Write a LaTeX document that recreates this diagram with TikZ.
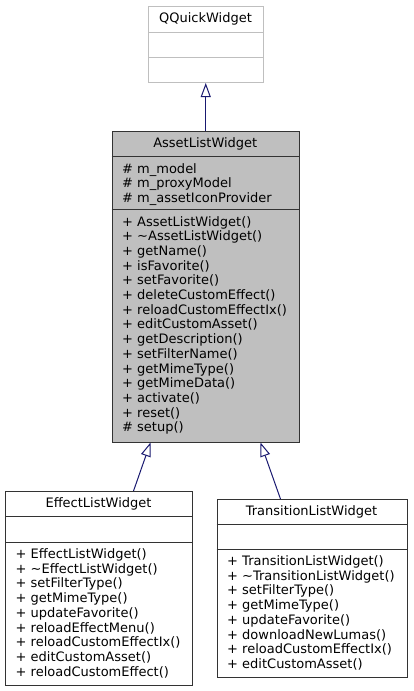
\documentclass[tikz,border=0pt]{standalone}
\usepackage{fontspec}
\setmainfont{DejaVu Sans}
\usetikzlibrary{arrows.meta}
\definecolor{boxfill}{HTML}{BFBFBF}
\definecolor{extborder}{HTML}{BFBFBF}
\definecolor{edgeblue}{HTML}{191970}
\definecolor{darkborder}{HTML}{333333}
\tikzset{
  classbox/.style={draw=darkborder, line width=1pt, fill=white, rectangle, inner sep=0pt, anchor=north west},
  extbox/.style={draw=extborder, line width=1pt, fill=white, rectangle, inner sep=0pt, anchor=north west},
  divider/.style={draw=darkborder, line width=1pt},
  extdivider/.style={draw=extborder, line width=1pt},
  title/.style={anchor=base, inner sep=0pt, font=\fontsize{13}{14.7}\selectfont},
  member/.style={anchor=base west, inner sep=0pt, font=\fontsize{13}{14.7}\selectfont},
  inherit/.style={draw=edgeblue, line width=1pt, -{Triangle[open, length=14pt, width=10pt, fill=white]}},
}
\begin{document}
\begin{tikzpicture}[x=1pt, y=-1pt]
\useasboundingbox (0,0) rectangle (413,691);

% QQuickWidget
\node[extbox, minimum width=115pt, minimum height=76pt] (qq) at (148,6) {};
\draw[extdivider] (148,32) -- (263,32);
\draw[extdivider] (148,57) -- (263,57);
\node[title] (qqt) at (205.5,22.5) {QQuickWidget};

% AssetListWidget
\node[classbox, fill=boxfill, minimum width=187.5pt, minimum height=310.5pt] (alw) at (111.5,131) {};
\draw[divider] (111.5,156.5) -- (299,156.5);
\draw[divider] (111.5,209.5) -- (299,209.5);
\node[title] (alwt) at (205.3,147.5) {AssetListWidget};
\foreach \t [count=\i from 0] in {\# m\_model, \# m\_proxyModel, \# m\_assetIconProvider}
  \node[member] (alwa\i) at (122,173+14.7*\i) {\t};
\foreach \t [count=\i from 0] in {+ AssetListWidget(), + \textasciitilde AssetListWidget(), + getName(), + isFavorite(), + setFavorite(), + deleteCustomEffect(), + reloadCustomEffectIx(), + editCustomAsset(), + getDescription(), + setFilterName(), + getMimeType(), + getMimeData(), + activate(), + reset(), \# setup()}
  \node[member] (alwm\i) at (122,226+14.7*\i) {\t};

% EffectListWidget
\node[classbox, minimum width=187pt, minimum height=194pt] (eff) at (5,491) {};
\draw[divider] (5,516) -- (192,516);
\draw[divider] (5,542) -- (192,542);
\node[title] (efft) at (98.5,507.5) {EffectListWidget};
\foreach \t [count=\i from 0] in {+ EffectListWidget(), + \textasciitilde EffectListWidget(), + setFilterType(), + getMimeType(), + updateFavorite(), + reloadEffectMenu(), + reloadCustomEffectIx(), + editCustomAsset(), + reloadCustomEffect()}
  \node[member] (effm\i) at (15.5,558.5+14.7*\i) {\t};

% TransitionListWidget
\node[classbox, minimum width=190pt, minimum height=178pt] (trn) at (216.5,499) {};
\draw[divider] (216.5,524) -- (406.5,524);
\draw[divider] (216.5,549) -- (406.5,549);
\node[title] (trnt) at (311.5,515.5) {TransitionListWidget};
\foreach \t [count=\i from 0] in {+ TransitionListWidget(), + \textasciitilde TransitionListWidget(), + setFilterType(), + getMimeType(), + updateFavorite(), + downloadNewLumas(), + reloadCustomEffectIx(), + editCustomAsset()}
  \node[member] (trnm\i) at (227,565.5+14.7*\i) {\t};

% connectors
\coordinate (alwtop) at ([xshift=0pt]alw.north);
\coordinate (qqbot) at (alwtop |- qq.south);
\draw[inherit] (alwtop) -- (qqbot);
\coordinate (effsrc) at ([xshift=34.5pt]eff.north);
\coordinate (effdst) at ([xshift=-55.25pt]alw.south);
\draw[inherit] (effsrc) -- (effdst);
\coordinate (trnsrc) at ([xshift=-31.5pt]trn.north);
\coordinate (trndst) at ([xshift=54.75pt]alw.south);
\draw[inherit] (trnsrc) -- (trndst);
\end{tikzpicture}
\end{document}
